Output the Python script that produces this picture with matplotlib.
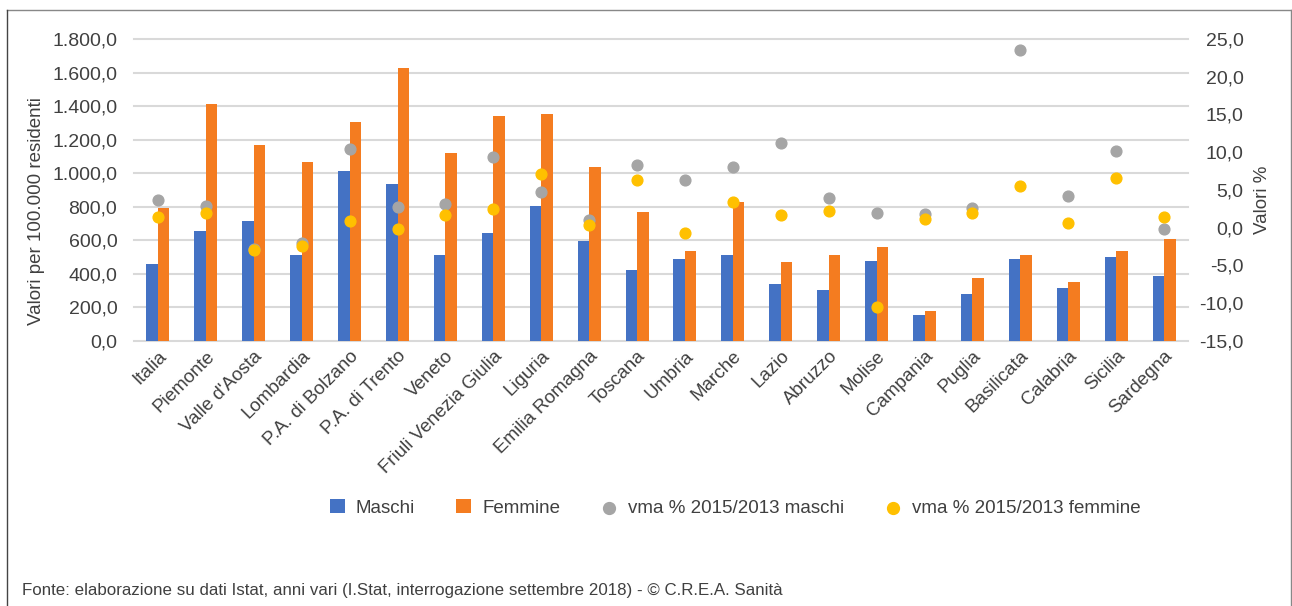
import numpy as np
import matplotlib.pyplot as plt
from matplotlib.lines import Line2D
from matplotlib.ticker import FuncFormatter

plt.rcParams['font.family'] = ['Liberation Sans', 'DejaVu Sans']

regioni = ['Italia', 'Piemonte', "Valle d'Aosta", 'Lombardia', 'P.A. di Bolzano',
           'P.A. di Trento', 'Veneto', 'Friuli Venezia Giulia', 'Liguria',
           'Emilia Romagna', 'Toscana', 'Umbria', 'Marche', 'Lazio', 'Abruzzo',
           'Molise', 'Campania', 'Puglia', 'Basilicata', 'Calabria', 'Sicilia',
           'Sardegna']
maschi = [459, 656, 717, 509, 1011, 936, 509, 644, 803, 594, 423, 485, 509, 338,
          300, 473, 153, 276, 485, 312, 497, 386]
femmine = [789, 1412, 1168, 1069, 1302, 1627, 1119, 1339, 1351, 1035, 765, 533,
           825, 471, 509, 557, 177, 374, 509, 348, 533, 606]
vma_maschi = [3.6, 2.85, -2.8, -2.06, 10.4, 2.76, 3.07, 9.36, 4.67, 0.95, 8.26,
              6.35, 8.0, 11.2, 3.87, 1.97, 1.74, 2.58, 23.5, 4.18, 10.16, -0.2]
vma_femmine = [1.44, 1.97, -2.95, -2.4, 0.9, -0.25, 1.7, 2.5, 7.15, 0.37, 6.3,
               -0.74, 3.34, 1.7, 2.24, -10.57, 1.17, 1.97, 5.5, 0.6, 6.57, 1.4]

c_blu = '#4472C4'
c_ara = '#F47C20'
c_gri = '#A5A5A5'
c_gia = '#FFC000'
txt = '#404040'

W, H = 1292, 606
ax_l, ax_r, ax_t, ax_b = 134, 1188, 39, 340.7
fig = plt.figure(figsize=(W / 100, H / 100), dpi=100)
ax = fig.add_axes([ax_l / W, 1 - ax_b / H, (ax_r - ax_l) / W, (ax_b - ax_t) / H])
ax2 = ax.twinx()

x = np.arange(len(regioni))
bw = 0.24
ax.bar(x - bw / 2, maschi, bw, color=c_blu, label='Maschi', zorder=2)
ax.bar(x + bw / 2, femmine, bw, color=c_ara, label='Femmine', zorder=2)
ax2.scatter(x, vma_maschi, s=60, color=c_gri, zorder=3, label='vma % 2015/2013 maschi')
ax2.scatter(x, vma_femmine, s=60, color=c_gia, zorder=4, label='vma % 2015/2013 femmine')

ax.set_xlim(-0.5, len(regioni) - 0.5)
ax.set_ylim(0, 1800)
ax.set_yticks(np.arange(0, 1801, 200))
ax2.set_ylim(-15, 25)
ax2.set_yticks(np.arange(-15, 26, 5))

def it_fmt(v, pos):
    s = f'{v:,.1f}'
    return s.replace(',', 'X').replace('.', ',').replace('X', '.')

ax.yaxis.set_major_formatter(FuncFormatter(it_fmt))
ax2.yaxis.set_major_formatter(FuncFormatter(it_fmt))

ax.yaxis.grid(True, color='#d9d9d9', linewidth=1.5, zorder=0)
for gl in ax.get_ygridlines():
    gl.set_clip_on(False)
ax.set_axisbelow(True)
for a in (ax, ax2):
    for sp in a.spines.values():
        sp.set_visible(False)
ax.tick_params(axis='y', length=0, pad=12, labelsize=14, labelcolor=txt)
ax2.tick_params(axis='y', length=0, pad=40, labelsize=14, labelcolor=txt)
for lab in ax2.get_yticklabels():
    lab.set_horizontalalignment('right')
ax.tick_params(axis='x', length=0, pad=5, labelsize=13.5, labelcolor=txt)
ax.set_xticks(x)
ax.set_xticklabels(regioni, rotation=45, ha='right', rotation_mode='anchor')

aw = ax_r - ax_l
ax.set_ylabel('Valori per 100.000 residenti', fontsize=13.5, color=txt)
ax.yaxis.set_label_coords((45 - ax_l) / aw, 0.43)
ax2.set_ylabel('Valori %', fontsize=13.5, color=txt)
ax2.yaxis.set_label_coords((1254 - ax_l) / aw, 0.466)

h1, l1 = ax.get_legend_handles_labels()
h2, l2 = ax2.get_legend_handles_labels()
fig.legend(h1 + h2, l1 + l2, loc='center', bbox_to_anchor=(735 / W, 1 - 508 / H),
           ncol=4, frameon=False, fontsize=13.5, labelcolor=txt, columnspacing=2.2,
           handlelength=0.8, handletextpad=0.6, markerscale=1.1)

fig.text(22 / W, 1 - 591 / H,
         'Fonte: elaborazione su dati Istat, anni vari (I.Stat, interrogazione settembre 2018) - © C.R.E.A. Sanità',
         fontsize=12.2, color=txt, va='center', ha='left')

fig.add_artist(Line2D([7 / W, 1291 / W], [1 - 10 / H, 1 - 10 / H], color='#888888', lw=1))
fig.add_artist(Line2D([7 / W, 7 / W], [1 - 10 / H, 0], color='#444444', lw=1))
fig.add_artist(Line2D([1291 / W, 1291 / W], [1 - 10 / H, 0], color='#888888', lw=1))

fig.savefig('out.png', dpi=100)
